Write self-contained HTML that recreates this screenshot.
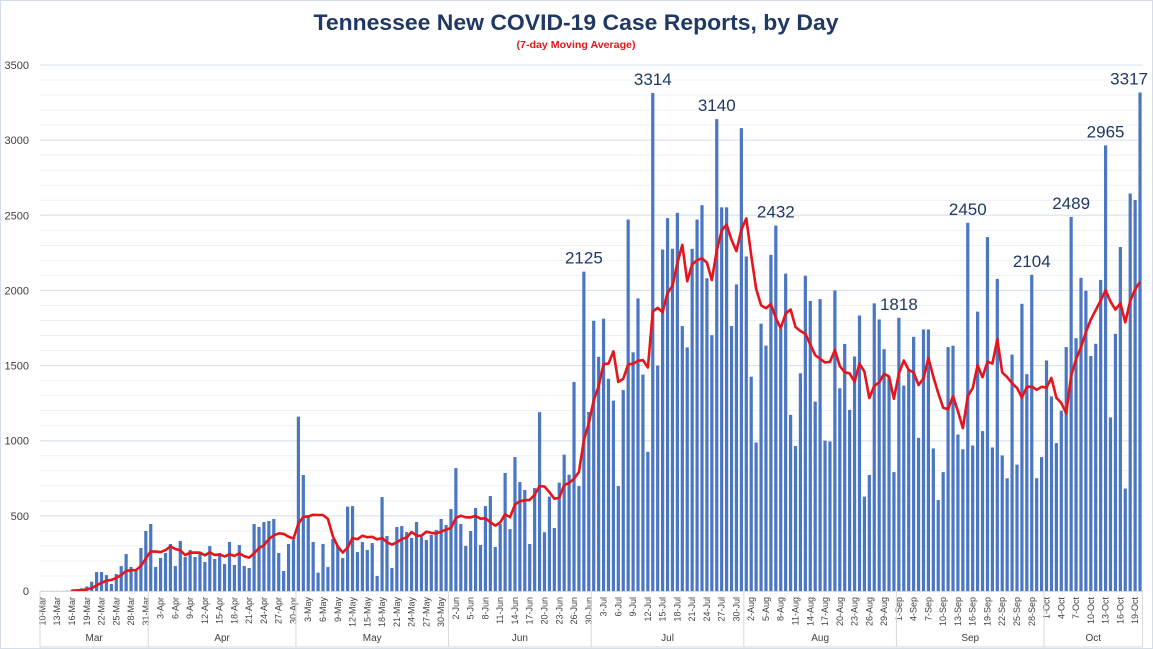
<!DOCTYPE html>
<html><head><meta charset="utf-8"><style>
html,body{margin:0;padding:0;background:#fff;}
svg{display:block;font-family:"Liberation Sans",sans-serif;}
</style></head><body>
<svg id="chart" width="1153" height="649" viewBox="0 0 1153 649" xmlns="http://www.w3.org/2000/svg">
<rect x="0.5" y="0.5" width="1152" height="648" fill="#fff" stroke="#d5dee8"/>
<text x="576" y="30" text-anchor="middle" font-size="22" font-weight="bold" fill="#203864" textLength="525" lengthAdjust="spacingAndGlyphs">Tennessee New COVID-19 Case Reports, by Day</text>
<text x="576" y="48" text-anchor="middle" font-size="10" font-weight="bold" fill="#e8141c" textLength="119" lengthAdjust="spacingAndGlyphs">(7-day Moving Average)</text>
<g id="grid"></g><g id="bars"></g><g id="line"></g><g id="labels"></g><g id="axis"></g>
</svg>
<script>
const startDate = [2020, 2, 10];
const skippedDates = ["28-Jun"];
const monthNames = ["Jan","Feb","Mar","Apr","May","Jun","Jul","Aug","Sep","Oct","Nov","Dec"];
const yTicks = [0,500,1000,1500,2000,2500,3000,3500];
const cases = [1,1,1,1,1,2,9,12,18,30,
62,126,126,106,47,113,166,246,160,140,286,399,446,160,220,253,313,166,333,226,273,226,246,193,299,213,253,180,326,173,306,166,153,446,426,459,466,479,253,133,313,
340,1160,772,505,326,122,313,160,346,300,220,561,565,259,326,273,319,100,625,366,153,426,432,392,353,459,359,339,373,406,479,439,545,818,446,300,399,552,306,565,632,293,446,785,412,891,725,672,313,685,1190,
391,628,419,721,907,774,1391,698,2125,1191,1798,1558,1812,1412,1267,698,1337,2472,1588,1947,1440,926,3314,1500,2272,2481,2277,2516,1763,1621,2277,2472,2567,2081,1702,3140,2553,2553,1763,2040,3080,2226,1426,988,
1779,1633,2237,2432,1745,2112,1172,965,1449,2098,1930,1260,1942,1000,995,2000,1349,1644,1205,1560,1833,628,772,1914,1807,1609,1430,791,1818,1367,1477,1691,1019,1740,1740,949,605,791,1623,
1632,1041,943,2450,968,1859,1064,2355,955,2077,902,750,1573,841,1911,1443,2104,750,891,1534,1295,984,1200,1623,2489,1682,2084,1998,1564,1645,2070,2965,1155,1711,2289,682,2645,2602,3317];
const annotated = [2125,3314,3140,2432,1818,2450,2104,2489,2965,3317];

const NS="http://www.w3.org/2000/svg";
const X0=40, X1=1142.5, Y0=591, YTOP=65, YMAX=3500;
const band=(X1-X0)/cases.length;
const xc=i=>X0+(i+0.5)*band;
const y=v=>Y0-(v/YMAX)*(Y0-YTOP);
function mk(tag,attrs,parent){const e=document.createElementNS(NS,tag);for(const k in attrs)e.setAttribute(k,attrs[k]);parent.appendChild(e);return e;}
const fmt=d=>d.getDate()+"-"+monthNames[d.getMonth()];
const dates=[];
let off=0;
while(dates.length<cases.length){
  const d=new Date(startDate[0],startDate[1],startDate[2]+off);off++;
  if(skippedDates.indexOf(fmt(d))>=0)continue;
  dates.push(d);
}
const cats=dates.map(fmt);

const grid=document.getElementById('grid');
for(let v=100;v<=YMAX;v+=100){
  const l=mk('line',{x1:X0,x2:X1,y1:y(v),y2:y(v),stroke:v%500===0?'#d6dfec':'#edf1f7','stroke-width':1},grid);
  
  
}
const axis=document.getElementById('axis');
yTicks.forEach(v=>{
  const t=mk('text',{x:29,y:y(v)+4,'text-anchor':'end','font-size':11,fill:'#404040'},axis);
  t.textContent=v;
  
  
});
const bars=document.getElementById('bars');
cases.forEach((v,i)=>{
  const r=mk('rect',{x:xc(i)-1.6,y:y(v),width:3.2,height:Y0-y(v),fill:'#4a76c2'},bars);
  
  
});
const pts=[];
for(let i=6;i<cases.length;i++){let s=0;for(let k=i-6;k<=i;k++)s+=cases[k];pts.push(xc(i).toFixed(1)+","+y(s/7).toFixed(1));}
const pl=mk('polyline',{points:pts.join(' '),fill:'none',stroke:'#e8141c','stroke-width':2.6,'stroke-linejoin':'round'},document.getElementById('line'));


const labels=document.getElementById('labels');
annotated.forEach(v=>{
  const i=cases.indexOf(v);if(i<0)return;
  const t=mk('text',{x:xc(i),y:y(v)-8,'text-anchor':'middle','font-size':17,fill:'#203864'},labels);
  t.textContent=v;
  
  
  const bb=t.getBBox();
  if(bb.x+bb.width>1148){t.setAttribute('x',1148-bb.width/2);}
});
mk('line',{x1:X0,x2:X1,y1:Y0+0.5,y2:Y0+0.5,stroke:'#d9d9d9'},axis);
mk('line',{x1:X0,x2:X1,y1:647,y2:647,stroke:'#d9d9d9'},axis);
cats.forEach((c,i)=>{
  if(i%3!==0)return;
  const t=mk('text',{transform:`translate(${xc(i)+3},597) rotate(-90)`,'text-anchor':'end','font-size':9,fill:'#404040'},axis);
  t.textContent=c;
  
  
});
let start=0;
for(let i=1;i<=cases.length;i++){
  if(i===cases.length||dates[i].getMonth()!==dates[start].getMonth()){
    const xs=X0+start*band, xe=X0+i*band;
    mk('line',{x1:xs,x2:xs,y1:Y0,y2:647,stroke:'#d9d9d9'},axis);
    const t=mk('text',{x:(xs+xe)/2,y:641,'text-anchor':'middle','font-size':10,fill:'#404040'},axis);
    t.textContent=monthNames[dates[start].getMonth()];
    
    
    start=i;
  }
}
mk('line',{x1:X1,x2:X1,y1:Y0,y2:647,stroke:'#d9d9d9'},axis);
</script>
</body></html>
